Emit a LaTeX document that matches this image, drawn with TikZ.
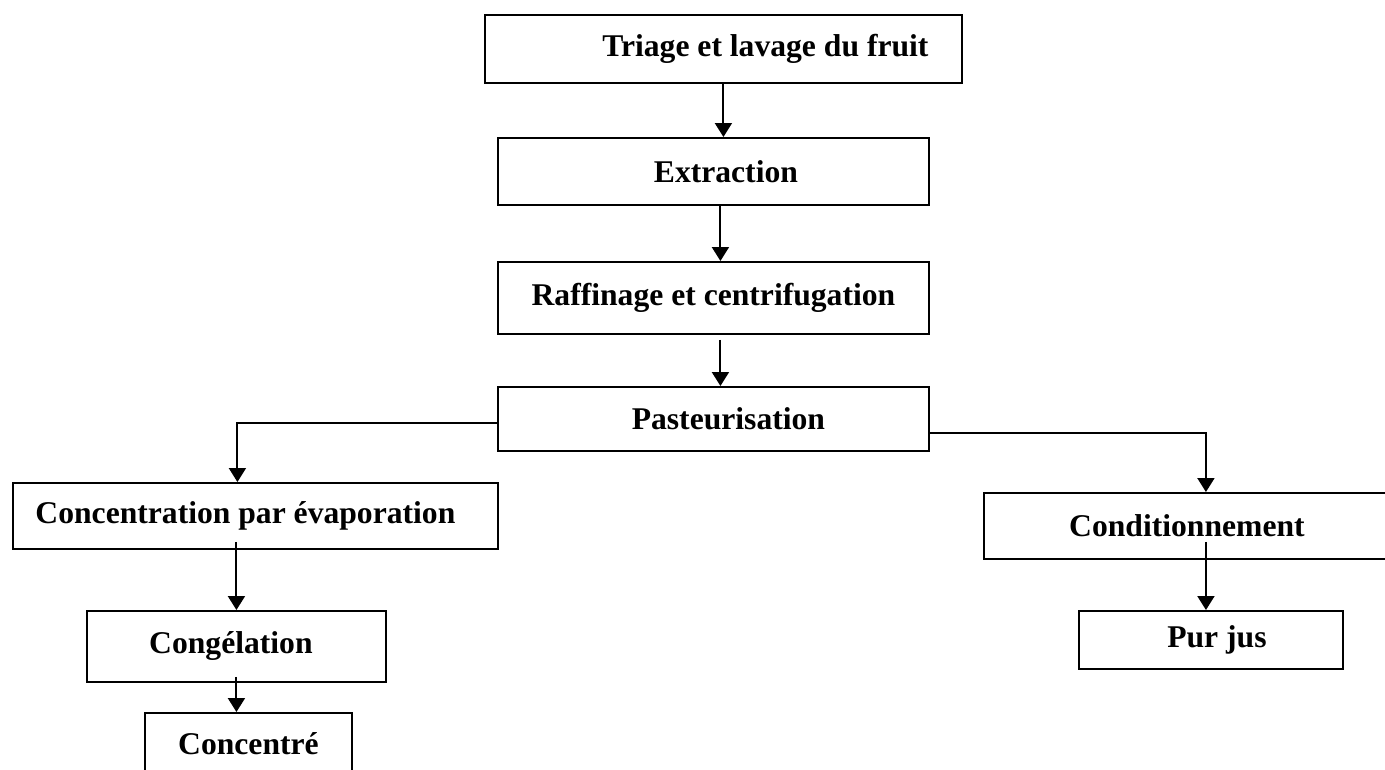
\documentclass[tikz,border=0pt]{standalone}
\usepackage{fontspec}
\setmainfont{Liberation Serif}
\usetikzlibrary{arrows.meta,calc}

\begin{document}
\begin{tikzpicture}[x=0.02cm,y=-0.02cm,line width=1.1pt]
        %
        % `stage' is used for every box of the process.
        % `flow' is used for the arrows between stages.
        \tikzstyle{stage} = [draw,anchor=north west,inner sep=0pt,font=\fontsize{18}{21}\selectfont\bfseries]
        \tikzstyle{flow} = [-{Triangle[width=0.34cm,length=0.28cm]}]
        %
        \useasboundingbox (0,0) rectangle (1385,769);
        \clip (0,0) rectangle (1385,769);
        %
        % Main column
        \node[stage,minimum width=9.54cm,minimum height=1.36cm] (triage) at (484,14) {\hspace*{1.68cm}Triage et lavage du fruit};
        \node[stage,minimum width=8.62cm,minimum height=1.34cm] (extraction) at (497,137) {\hspace*{0.5cm}Extraction};
        \node[stage,minimum width=8.62cm,minimum height=1.44cm] (raffinage) at (497,261) {Raffinage et centrifugation};
        \node[stage,minimum width=8.62cm,minimum height=1.28cm] (pasteur) at (497,386) {\hspace*{0.6cm}Pasteurisation};
        %
        % Left branch
        \node[stage,minimum width=9.7cm,minimum height=1.32cm] (concentration) at (12,482) {Concentration par \'evaporation\hspace*{0.4cm}};
        \node[stage,minimum width=5.98cm,minimum height=1.42cm] (congel) at (86,610) {Cong\'elation\hspace*{0.22cm}};
        \node[stage,minimum width=4.14cm,minimum height=1.24cm] (concentre) at (144,712) {Concentr\'e};
        %
        % Right branch
        \node[stage,minimum width=8.12cm,minimum height=1.32cm] (condition) at (983,492) {Conditionnement};
        \node[stage,minimum width=5.28cm,minimum height=1.16cm] (purjus) at (1078,610) {\hspace*{0.24cm}Pur jus};
        %
        % Arrows, main column
        \draw[flow] (triage.south) -- (triage.south |- extraction.north);
        \draw[flow] ($(extraction.south)+(7,0)$) -- ($(raffinage.north)+(7,0)$);
        \draw[flow] ($(raffinage.south)+(7,5)$) -- ($(pasteur.north)+(7,0)$);
        %
        % Arrows, branches
        \draw[flow] ($(pasteur.west)+(0,4)$) -| ($(concentration.north)+(-18,0)$);
        \draw[flow] ($(pasteur.east)+(0,14)$) -| ($(condition.north)+(19,0)$);
        \draw[flow] ($(congel.north |- concentration.south)+(0,-8)$) -- (congel.north);
        \draw[flow] ($(congel.south)+(0,-6)$) -- (congel.south |- concentre.north);
        \draw[flow] ($(condition.south -| purjus.north)+(-5,-18)$) -- ($(purjus.north)+(-5,0)$);
        %
\end{tikzpicture}
\end{document}
